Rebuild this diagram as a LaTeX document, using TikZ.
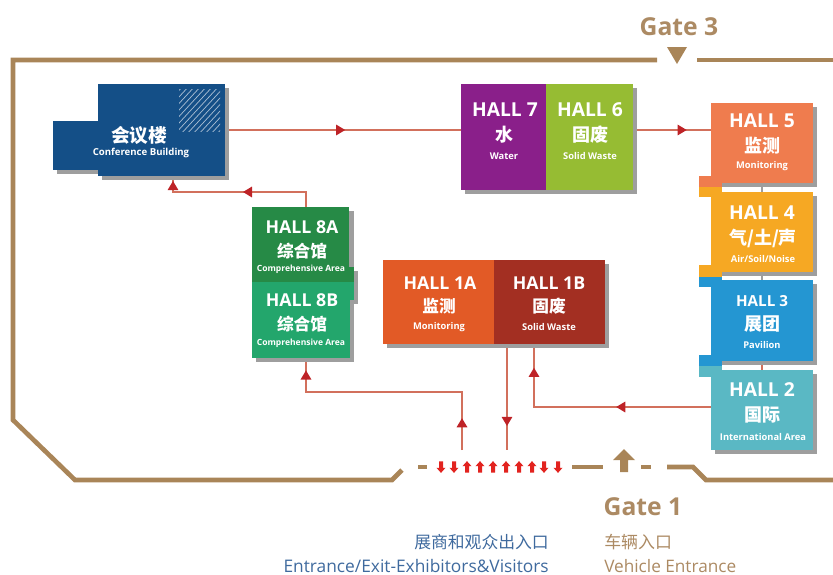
\documentclass[tikz,border=0pt]{standalone}
\usepackage{fontspec}
\setmainfont{Open Sans}
\newfontfamily\cjk{Noto Sans CJK SC}
\usetikzlibrary{fit}
\definecolor{wall}{HTML}{A98558}
\definecolor{gatetxt}{HTML}{AC8A63}
\definecolor{bluetxt}{HTML}{3F6A9E}
\definecolor{shadowc}{HTML}{9E9E9E}
\definecolor{connc}{HTML}{D2705C}
\definecolor{tipred}{HTML}{BE2327}
\definecolor{minired}{HTML}{E2231F}
\definecolor{cconf}{HTML}{144F87}
\definecolor{chvii}{HTML}{8A1F8A}
\definecolor{chvi}{HTML}{96BC33}
\definecolor{chv}{HTML}{EF7C4E}
\definecolor{chiv}{HTML}{F6A823}
\definecolor{chiii}{HTML}{2496D2}
\definecolor{chii}{HTML}{5AB8C4}
\definecolor{chA}{HTML}{268A46}
\definecolor{chB}{HTML}{23A66C}
\definecolor{choA}{HTML}{E25A26}
\definecolor{choB}{HTML}{A32F22}
\tikzset{
  x=0.75pt,y=-0.75pt,
  wallline/.style={draw=wall,line width=3.5pt},
  conn/.style={draw=connc,line width=1pt},
  box/.style={inner sep=0pt,outer sep=0pt,draw=none},
  tip/.pic={\fill[tipred] (3.4pt,0pt)--(-3.4pt,4.1pt)--(-3.4pt,-4.1pt)--cycle;},
  minidown/.pic={\fill[minired] (0,-4.4pt)--(3.4pt,-0.6pt)--(1.5pt,-0.6pt)--(1.5pt,4.2pt)--(-1.5pt,4.2pt)--(-1.5pt,-0.6pt)--(-3.4pt,-0.6pt)--cycle;},
  miniup/.pic={\fill[minired] (0,4.4pt)--(3.4pt,0.6pt)--(1.5pt,0.6pt)--(1.5pt,-4.2pt)--(-1.5pt,-4.2pt)--(-1.5pt,0.6pt)--(-3.4pt,0.6pt)--cycle;},
  hallt/.style={text=white,font=\bfseries\fontsize{14.4pt}{16pt}\selectfont,inner sep=0pt},
  hallm/.style={text=white,font=\bfseries\fontsize{13.3pt}{16pt}\selectfont,inner sep=0pt},
  hallsm/.style={text=white,font=\bfseries\fontsize{11.4pt}{14pt}\selectfont,inner sep=0pt},
  hallcn/.style={text=white,font=\cjk\bfseries\fontsize{13.5pt}{14pt}\selectfont,inner sep=0pt},
  hallcs/.style={text=white,font=\cjk\bfseries\fontsize{12.5pt}{14pt}\selectfont,inner sep=0pt},
  hallen/.style={text=white,font=\bfseries\fontsize{7pt}{8pt}\selectfont,inner sep=0pt},
  hallet/.style={text=white,font=\bfseries\fontsize{6.4pt}{8pt}\selectfont,inner sep=0pt},
  gatet/.style={text=gatetxt,font=\bfseries\fontsize{18.5pt}{20pt}\selectfont,inner sep=0pt},
  captb/.style={text=bluetxt,font=\fontsize{13pt}{14pt}\selectfont,inner sep=0pt},
  captbc/.style={text=bluetxt,font=\cjk\fontsize{12.6pt}{14pt}\selectfont,inner sep=0pt},
  captg/.style={text=gatetxt,font=\fontsize{12.9pt}{14pt}\selectfont,inner sep=0pt},
  captgc/.style={text=gatetxt,font=\cjk\fontsize{12.7pt}{14pt}\selectfont,inner sep=0pt},
}
\newcommand{\shadowbox}[4]{\fill[shadowc] (#1+4,#2+4) rectangle (#3+4,#4+4);}
\newcommand{\hallbox}[6]{\node[box,fill=#6,fit={(#2,#3)(#4,#5)}] (#1) {};}
\begin{document}
\begin{tikzpicture}
\useasboundingbox (0,0) rectangle (833,575);
% outer wall
\coordinate (wa) at (657,60);
\coordinate (wb) at (13,60);
\coordinate (wc) at (13,420);
\coordinate (wd) at (75,480);
\coordinate (we) at (392,480);
\coordinate (wf) at (402,470);
\draw[wallline] (wa) -- (wb) -- (wc) -- (wd) -- (we) -- (wf);
\coordinate (wg) at (697,60);
\coordinate (wh) at (833,60);
\draw[wallline] (wg) -- (wh);
\coordinate (wi) at (418,467);
\coordinate (wj) at (427,467);
\draw[wallline] (wi) -- (wj);
\coordinate (wk) at (572,467);
\coordinate (wl) at (603,467);
\draw[wallline] (wk) -- (wl);
\coordinate (wm) at (641,467);
\coordinate (wn) at (651,467);
\draw[wallline] (wm) -- (wn);
\coordinate (wo) at (667,467);
\coordinate (wp) at (693,467);
\coordinate (wq) at (706,480);
\coordinate (wr) at (833,480);
\draw[wallline] (wo) -- (wp) -- (wq) -- (wr);
% gate marks
\fill[wall] (667,47) -- (687,47) -- (677,64) -- cycle;
\fill[wall] (624,449) -- (635,460) -- (628,460) -- (628,472) -- (620,472) -- (620,460) -- (613,460) -- cycle;
% small entrance arrows
\foreach \px in {441,454,544,558} \pic at (\px,467) {minidown};
\foreach \px in {467,480,493,506,519,532} \pic at (\px,467) {miniup};
% connectors go under the shadows
\hallbox{conf}{98}{84}{225}{176}{cconf}
\hallbox{hvii}{461}{84}{546}{190}{chvii}
\hallbox{hvi}{546}{84}{633}{190}{chvi}
\hallbox{hv}{711}{103}{813}{183}{chv}
\hallbox{hiv}{711}{192}{813}{272}{chiv}
\hallbox{hiii}{711}{280}{813}{361}{chiii}
\hallbox{hii}{711}{370}{813}{450}{chii}
\hallbox{hA}{252}{207}{349}{282}{chA}
\hallbox{hB}{252}{282}{350}{358}{chB}
\hallbox{hoA}{383}{260}{494}{344}{choA}
\hallbox{hoB}{494}{260}{605}{344}{choB}
\draw[conn,draw=shadowc] (hv.south) -- (hiv.north);
\draw[conn,draw=shadowc] (hiv.south) -- (hiii.north);
\draw[conn] (hiii.south) -- (hii.north);
\draw[conn] (conf.east) -- pic[pos=.49]{tip} (conf.east -| hvii.west);
\draw[conn] (hvi.east |- conf.east) -- pic[pos=.63]{tip} (hv.west |- conf.east);
\coordinate (ab) at (306,192);
\coordinate (ac) at (173,192);
\draw[conn] (ab |- hA.north) -- (ab) -- pic[pos=.44,rotate=180]{tip} (ac) -- pic[pos=.4,rotate=90]{tip} (ac |- conf.south);
\coordinate (ea) at (462,450);
\coordinate (eb) at (462,392);
\coordinate (ec) at (306,392);
\draw[conn] (ea) -- pic[pos=.47,rotate=90]{tip} (eb) -- (ec) -- pic[pos=.5,rotate=90]{tip} (ec |- hB.south);
\coordinate (ed) at (507,450);
\draw[conn] (ed |- hoB.south) -- pic[pos=.73,rotate=-90]{tip} (ed);
\coordinate (ee) at (534,407);
\draw[conn] (hii.west |- ee) -- pic[pos=.51,rotate=180]{tip} (ee) -- pic[pos=.55,rotate=90]{tip} (ee |- hoB.south);
% shadows
\shadowbox{98}{84}{225}{176}
\shadowbox{53}{121}{147}{170}
\shadowbox{461}{84}{633}{190}
\shadowbox{711}{103}{813}{183}
\shadowbox{711}{192}{813}{272}
\shadowbox{711}{280}{813}{361}
\shadowbox{711}{370}{813}{450}
\shadowbox{252}{207}{350}{267}
\shadowbox{252}{267}{354}{300}
\shadowbox{252}{300}{350}{358}
\shadowbox{383}{260}{605}{344}
% boxes
\fill[cconf] (53,121) rectangle (147,170);
\fill[cconf] (98,84) rectangle (225,176);
\begin{scope}
\clip (179,89) rectangle (220,131);
\foreach \k in {0,6,...,90}
  \draw[white!62!cconf,line width=.55pt] (132+\k,135) -- (132+\k+46,85);
\end{scope}
\fill[chvii] (461,84) rectangle (546,190);
\fill[chvi] (546,84) rectangle (633,190);
\fill[chv] (699,176) rectangle (722,187);
\fill[chiv] (699,187) rectangle (722,197);
\fill[chiv] (699,265) rectangle (722,277);
\fill[chiii] (699,277) rectangle (722,287);
\fill[chiii] (699,355) rectangle (722,366);
\fill[chii] (699,366) rectangle (722,377);
\fill[chv] (711,103) rectangle (813,183);
\fill[chiv] (711,192) rectangle (813,272);
\fill[chiii] (711,280) rectangle (813,361);
\fill[chii] (711,370) rectangle (813,450);
\fill[chA] (252,207) rectangle (349,282);
\fill[chA] (252,267) rectangle (354,282);
\fill[chB] (252,282) rectangle (354,300);
\fill[chB] (252,282) rectangle (350,358);
\fill[choA] (383,260) rectangle (494,344);
\fill[choB] (494,260) rectangle (605,344);
% texts
\node[hallcn,font=\cjk\bfseries\fontsize{14pt}{14pt}\selectfont] (t1) at (139,135) {会议楼};
\node[hallen,font=\bfseries\fontsize{7.2pt}{8pt}\selectfont] (t2) at (141,153) {Conference Building};
\node[hallt] (t3) at (505,110) {HALL 7};
\node[hallcn] (t4) at (504,135) {水};
\node[hallen] (t5) at (504,156) {Water};
\node[hallt] (t6) at (590,110) {HALL 6};
\node[hallcn] (t7) at (590,135) {固废};
\node[hallen] (t8) at (590,156) {Solid Waste};
\node[hallt] (t9) at (762,121) {HALL 5};
\node[hallcn] (t10) at (762,146) {监测};
\node[hallen] (t11) at (762,166) {Monitoring};
\node[hallt] (t12) at (762,213) {HALL 4};
\node[hallcn] (t13) at (763,238) {气/土/声};
\node[hallen] (t14) at (763,259) {Air/Soil/Noise};
\node[hallsm] (t15) at (762,301) {HALL 3};
\node[hallcn] (t16) at (762,324) {展团};
\node[hallen] (t17) at (762,345) {Pavilion};
\node[hallt] (t18) at (762,390) {HALL 2};
\node[hallcn] (t19) at (762,415) {国际};
\node[hallen] (t20) at (763,437) {International Area};
\node[hallm] (t21) at (302,227) {HALL 8A};
\node[hallcs] (t22) at (302,251) {综合馆};
\node[hallet] (t23) at (301,269) {Comprehensive Area};
\node[hallm] (t24) at (302,300) {HALL 8B};
\node[hallcs] (t25) at (302,324) {综合馆};
\node[hallet] (t26) at (301,343) {Comprehensive Area};
\node[hallm] (t27) at (440,283) {HALL 1A};
\node[hallcs] (t28) at (439,306) {监测};
\node[hallen] (t29) at (439,327) {Monitoring};
\node[hallm] (t30) at (549,283) {HALL 1B};
\node[hallcs] (t31) at (549,306) {固废};
\node[hallen] (t32) at (549,327) {Solid Waste};
\node[gatet] (g3) at (679,27) {Gate 3};
\node[gatet] (g1) at (643,507) {Gate 1};
\node[captbc,anchor=east] (c1) at (549,542) {展商和观众出入口};
\node[captb,anchor=east] (c2) at (549,566) {Entrance/Exit-Exhibitors\&Visitors};
\node[captgc,anchor=west] (c3) at (604,542) {车辆入口};
\node[captg,anchor=west] (c4) at (604,566) {Vehicle Entrance};
\end{tikzpicture}
\end{document}
